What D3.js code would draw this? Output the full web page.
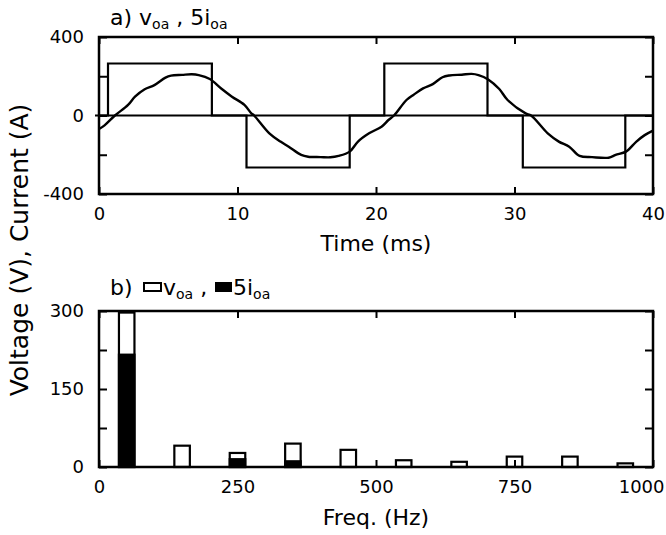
<!DOCTYPE html>
<html>
<head>
<meta charset="utf-8">
<script src="https://cdn.jsdelivr.net/npm/d3@7"></script>
<style>
  body { margin: 0; background: #fff; }
  svg { font-family: "DejaVu Sans", Verdana, sans-serif; }
</style>
</head>
<body>
<svg id="chart" width="666" height="535"></svg>
<script>
// a) time domain: square-wave voltage (step edges) and 5x current
const voltEdgeTime = [0, 0.65, 8.15, 10.65, 18.1, 20.6, 28.05, 30.6, 38.0, 40];
const voltEdgeValue = [0, 265, 0, -265, 0, 265, 0, -265, 0, 0];

const currTime = [0, 0.4, 1.15, 2.1, 2.6, 3.3, 4.0, 4.8, 5.2, 6.0, 6.7, 7.2, 8.0, 8.8, 9.6, 10.5, 11.0, 11.2,
  12.3, 13.1, 13.7, 14.6, 15.1, 16.0, 16.7, 17.3, 18.1, 18.7, 19.5, 20.4, 20.9, 21.3,
  22.2, 22.7, 23.4, 24.1, 24.8, 25.3, 26.2, 26.9, 27.4, 28.1, 28.9, 29.5, 30.8, 31.2,
  32.4, 33.2, 33.95, 34.7, 35.6, 36.8, 37.3, 38.05, 38.8, 39.4, 40];
const curr5i = [-69, -50, 0, 54, 96, 134, 155, 193, 203, 207, 210, 206, 186, 139, 96, 54, 11, 0,
  -91, -133, -159, -201, -210, -212, -213, -206, -184, -133, -91, -57, -23, 0,
  79, 105, 138, 160, 195, 204, 208, 212, 206, 184, 135, 79, 11, 0,
  -91, -133, -159, -206, -212, -215, -201, -184, -133, -100, -77];

const timeTicks = [0, 10, 20, 30, 40];
const ampTicks = [-400, -200, 0, 200, 400];
const ampLabels = [-400, 0, 400];

// b) harmonic spectrum
const harmFreq = [50, 150, 250, 350, 450, 550, 650, 750, 850, 950];
const harmVolt = [297, 41, 27, 45, 33, 13, 10, 20, 20, 7];
const harmCurr = [216, 0, 15, 11, 0, 0, 0, 0, 0, 0];
const freqTicks = [0, 250, 500, 750, 1000];
const specTicks = [0, 75, 150, 225, 300];
const specLabels = [0, 150, 300];

const svg = d3.select("#chart");
const left = 99, right = 653;

// ---------- panel a ----------
const xa = d3.scaleLinear().domain([0, 40]).range([left, right]);
const ya = d3.scaleLinear().domain([-400, 400]).range([194, 37]);

function frame(g, x, y) {
  g.append("rect")
    .attr("x", x.range()[0]).attr("y", y.range()[1])
    .attr("width", x.range()[1] - x.range()[0])
    .attr("height", y.range()[0] - y.range()[1])
    .attr("fill", "none").attr("stroke", "#000").attr("stroke-width", 2.5);
}

function axes(g, x, y, xt, yt, ylab, xfmt) {
  const bot = y.range()[0], top = y.range()[1];
  const l = x.range()[0], r = x.range()[1];
  const xb = g.append("g").attr("transform", `translate(0,${bot})`)
    .call(d3.axisBottom(x).tickValues(xt).tickSize(-7).tickPadding(13).tickFormat(xfmt));
  g.append("g").attr("transform", `translate(0,${top})`)
    .call(d3.axisTop(x).tickValues(xt).tickSize(-7).tickFormat(""));
  g.append("g").attr("transform", `translate(${l},0)`)
    .call(d3.axisLeft(y).tickValues(yt).tickSize(-8).tickPadding(15)
      .tickFormat(d => ylab.includes(d) ? d : ""));
  g.append("g").attr("transform", `translate(${r},0)`)
    .call(d3.axisRight(y).tickValues(yt).tickSize(-8).tickFormat(""));
  g.selectAll(".domain").remove();
  g.selectAll(".tick line").attr("stroke", "#000").attr("stroke-width", 2);
  g.selectAll(".tick text").attr("font-size", 18).attr("fill", "#000")
    .attr("font-family", "DejaVu Sans, sans-serif");
  return xb;
}

const ga = svg.append("g");
ga.append("line")
  .attr("x1", left - 4).attr("x2", right)
  .attr("y1", ya(0)).attr("y2", ya(0))
  .attr("stroke", "#000").attr("stroke-width", 2);

const voltLine = d3.line()
  .x((d, i) => xa(voltEdgeTime[i])).y(d => ya(d))
  .curve(d3.curveStepAfter);
ga.append("path").datum(voltEdgeValue)
  .attr("d", voltLine).attr("fill", "none")
  .attr("stroke", "#000").attr("stroke-width", 2.2);

const currLine = d3.line()
  .x((d, i) => xa(currTime[i])).y(d => ya(d))
  .curve(d3.curveCatmullRom.alpha(0.5));
ga.append("path").datum(curr5i)
  .attr("d", currLine).attr("fill", "none")
  .attr("stroke", "#000").attr("stroke-width", 2.4);

axes(ga, xa, ya, timeTicks, ampTicks, ampLabels, d3.format("d"));
frame(ga, xa, ya);

// ---------- panel b ----------
const xb = d3.scaleLinear().domain([0, 1000]).range([left, right]);
const yb = d3.scaleLinear().domain([0, 300]).range([467, 311]);
const half = 14;

const gb = svg.append("g");
gb.selectAll("rect.v").data(harmFreq).join("rect")
  .attr("class", "v")
  .attr("x", d => xb(d - half))
  .attr("width", d => xb(d + half) - xb(d - half))
  .attr("y", (d, i) => yb(harmVolt[i]))
  .attr("height", (d, i) => yb(0) - yb(harmVolt[i]))
  .attr("fill", "#fff").attr("stroke", "#000").attr("stroke-width", 2.2);
gb.selectAll("rect.c").data(harmFreq).join("rect")
  .attr("class", "c")
  .attr("x", d => xb(d - half))
  .attr("width", d => xb(d + half) - xb(d - half))
  .attr("y", (d, i) => yb(harmCurr[i]))
  .attr("height", (d, i) => yb(0) - yb(harmCurr[i]))
  .attr("fill", "#000").attr("stroke", "#000").attr("stroke-width", 2.2);

const xbAxis = axes(gb, xb, yb, freqTicks, specTicks, specLabels, d3.format("d"));
xbAxis.selectAll(".tick text").filter(d => d === 1000)
  .attr("text-anchor", "end").attr("x", 11);
frame(gb, xb, yb);

// ---------- text ----------
function title(y, parts) {
  const t = svg.append("text").attr("x", 110).attr("y", y)
    .attr("font-size", 22).attr("fill", "#000");
  parts.forEach(p => {
    const s = t.append("tspan").text(p.t);
    if (p.sub) s.attr("font-size", 14).attr("dy", 4);
    if (p.up) s.attr("dy", -4);
  });
  return t;
}

title(25, [{ t: "a) v" }, { t: "oa", sub: true }, { t: " , 5i", up: true }, { t: "oa", sub: true }]);

// panel b legend
const lg = svg.append("g");
lg.append("text").attr("x", 110).attr("y", 295).attr("font-size", 22).text("b)");
lg.append("rect").attr("x", 144).attr("y", 283).attr("width", 17).attr("height", 8)
  .attr("fill", "#fff").attr("stroke", "#000").attr("stroke-width", 2);
const lv = lg.append("text").attr("x", 163).attr("y", 295).attr("font-size", 22);
lv.append("tspan").text("v");
lv.append("tspan").text("oa").attr("font-size", 14).attr("dy", 4);
lv.append("tspan").text(" ,").attr("dy", -4);
lg.append("rect").attr("x", 216).attr("y", 283).attr("width", 15).attr("height", 8)
  .attr("fill", "#000").attr("stroke", "#000").attr("stroke-width", 2);
const li = lg.append("text").attr("x", 233).attr("y", 295).attr("font-size", 22);
li.append("tspan").text("5i");
li.append("tspan").text("oa").attr("font-size", 14).attr("dy", 4);

svg.append("text").attr("x", 376).attr("y", 251).attr("text-anchor", "middle")
  .attr("font-size", 22).text("Time (ms)");
svg.append("text").attr("x", 376).attr("y", 525).attr("text-anchor", "middle")
  .attr("font-size", 22).text("Freq. (Hz)");
svg.append("text")
  .attr("transform", "translate(28,250) rotate(-90)")
  .attr("text-anchor", "middle").attr("font-size", 25)
  .text("Voltage (V), Current (A)");
</script>
</body>
</html>
